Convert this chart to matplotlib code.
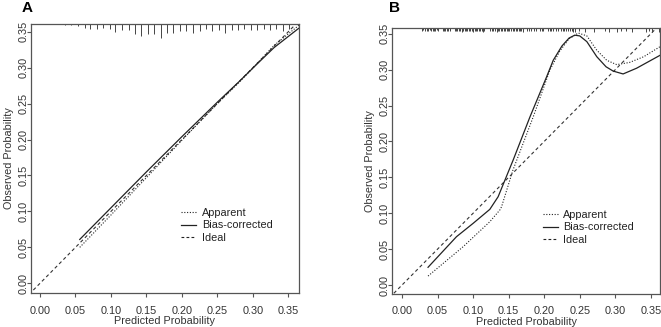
import matplotlib
matplotlib.use("Agg")
import matplotlib.pyplot as plt
from matplotlib.lines import Line2D
import numpy as np

plt.rcParams['font.family'] = ['Liberation Sans', 'DejaVu Sans']

# ---------------- Data ----------------
# Panel A
a_app_x = [0.056, 0.10, 0.15, 0.20, 0.25, 0.28, 0.31, 0.33, 0.365]
a_app_y = [0.050, 0.095, 0.147, 0.199, 0.250, 0.279, 0.310, 0.331, 0.359]
a_bc_x = [0.056, 0.10, 0.15, 0.20, 0.25, 0.28, 0.31, 0.33, 0.365]
a_bc_y = [0.061, 0.105, 0.155, 0.204, 0.252, 0.280, 0.309, 0.328, 0.355]
a_rug_x = [0.035, 0.043, 0.054, 0.063, 0.071, 0.080, 0.089, 0.098, 0.106, 0.116,
           0.125, 0.134, 0.142, 0.152, 0.161, 0.170, 0.179, 0.188, 0.197, 0.206,
           0.216, 0.225, 0.234, 0.243, 0.252, 0.261, 0.270, 0.279, 0.288, 0.297,
           0.306, 0.315, 0.324, 0.333, 0.342, 0.351]
a_rug_freq = [1, 1.3, 2, 4, 5, 5, 4, 5, 8, 6, 6, 10, 12, 10, 10, 14, 9, 9, 7, 7,
              9, 7, 5, 7, 6, 9, 6, 6, 5, 6, 6, 5, 6, 5, 7, 5]

# Panel B
b_app_x = [0.0366, 0.0859, 0.1235, 0.1376, 0.140, 0.156, 0.1845, 0.208, 0.222,
           0.235, 0.248, 0.260, 0.274, 0.288, 0.302, 0.320, 0.340, 0.363]
b_app_y = [0.0125, 0.0533, 0.0882, 0.1045, 0.109, 0.160, 0.234, 0.2994, 0.326,
           0.343, 0.351, 0.347, 0.327, 0.313, 0.307, 0.310, 0.318, 0.332]
b_bc_x = [0.0366, 0.0766, 0.100, 0.1235, 0.1352, 0.1563, 0.1799, 0.2034, 0.2127,
          0.225, 0.235, 0.243, 0.250, 0.260, 0.274, 0.287, 0.297, 0.311, 0.330, 0.363]
b_bc_y = [0.0247, 0.0673, 0.0859, 0.1054, 0.123, 0.174, 0.234, 0.290, 0.313,
          0.333, 0.344, 0.348, 0.347, 0.339, 0.318, 0.304, 0.298, 0.294, 0.302, 0.320]
b_rug_x = [0.028, 0.030, 0.033, 0.035, 0.037, 0.039, 0.041, 0.043, 0.045, 0.047,
           0.049, 0.051, 0.057, 0.059, 0.061, 0.063, 0.065, 0.067, 0.068, 0.074,
           0.076, 0.078, 0.080, 0.082, 0.084, 0.086, 0.088, 0.090, 0.092, 0.094,
           0.096, 0.098, 0.100, 0.102, 0.104, 0.106, 0.108, 0.110, 0.112, 0.114,
           0.116, 0.124, 0.126, 0.128, 0.131, 0.133, 0.135, 0.137, 0.139, 0.141,
           0.143, 0.145, 0.147, 0.149, 0.151, 0.154, 0.156, 0.158, 0.160, 0.162,
           0.164, 0.166, 0.168, 0.170, 0.176, 0.178, 0.181, 0.186, 0.188, 0.194,
           0.197, 0.199, 0.206, 0.208, 0.210, 0.212, 0.216, 0.220, 0.223, 0.226,
           0.228, 0.231, 0.233, 0.236, 0.239, 0.241, 0.244, 0.249, 0.258, 0.270,
           0.286, 0.291, 0.303, 0.308, 0.315, 0.324, 0.343, 0.348, 0.352, 0.362]
b_rug_freq = [3, 2, 3, 3, 3, 2, 3, 3, 3, 3, 2, 3, 3, 3, 3, 3, 3, 2, 3, 3,
              3, 3, 3, 3, 4, 3, 3, 3, 3, 3, 3, 3, 4, 3, 3, 3, 3, 3, 3, 4,
              3, 3, 3, 3, 3, 4, 3, 3, 3, 3, 3, 3, 3, 3, 3, 3, 3, 3, 3, 3,
              3, 3, 3, 4, 3, 3, 3, 3, 3, 3, 3, 3, 3, 3, 3, 3, 3, 3, 3, 3,
              3, 3, 3, 3, 3, 4, 4, 3, 4, 4, 3, 4, 4, 3, 3, 4, 4, 3, 4, 4]

xticks = [0.00, 0.05, 0.10, 0.15, 0.20, 0.25, 0.30, 0.35]
yticks = [0.00, 0.05, 0.10, 0.15, 0.20, 0.25, 0.30, 0.35]
legend_labels = ["Apparent", "Bias-corrected", "Ideal"]

# ---------------- Figure ----------------
W, H = 661, 327
fig = plt.figure(figsize=(W / 100, H / 100), dpi=100)

def px_axes(l, t, r, b):
    return fig.add_axes([l / W, 1 - b / H, (r - l) / W, (b - t) / H])

ax_a = px_axes(31, 24, 299, 293)
ax_b = px_axes(392, 28, 660, 294)

lc = '#222222'
fc = '#555555'
fs = 7.8

def style(ax, xlim, ylim, rug_x, rug_freq, rug_scale):
    ax.set_xlim(*xlim)
    ax.set_ylim(*ylim)
    ax.plot([-1, 1], [-1, 1], color='#333333', lw=0.8, dashes=(3, 2.5))
    ax.set_xticks(xticks)
    ax.set_xticklabels([f"{v:.2f}" for v in xticks])
    ax.set_yticks(yticks)
    ax.set_yticklabels([f"{v:.2f}" for v in yticks], rotation=90, va='center')
    ax.tick_params(axis='both', labelsize=fs, colors=fc, length=3, width=0.8)
    ax.tick_params(axis='x', labelcolor='#333333', pad=6)
    ax.tick_params(axis='y', labelcolor='#333333', pad=-1.5)
    for s in ax.spines.values():
        s.set_color('#555555')
        s.set_linewidth(0.9)
    ax.set_xlabel("Predicted Probability", fontsize=fs, color='#333333', labelpad=0.5)
    ax.set_ylabel("Observed Probability", fontsize=fs, color='#333333', labelpad=3.5)
    trans = ax.get_xaxis_transform()
    for x, f in zip(rug_x, rug_freq):
        ax.plot([x, x], [1, 1 - f * rug_scale], color='#444444', lw=0.7,
                transform=trans, clip_on=False, solid_capstyle='butt')

style(ax_a, (-0.0127, 0.3650), (-0.0135, 0.3607), a_rug_x, a_rug_freq, 1 / 269)
style(ax_b, (-0.0141, 0.3629), (-0.0125, 0.3580), b_rug_x, b_rug_freq, 1 / 266)

ax_a.plot(a_app_x, a_app_y, color=lc, lw=0.8, dashes=(1, 1.5))
ax_a.plot(a_bc_x, a_bc_y, color=lc, lw=0.9)
ax_b.plot(b_app_x, b_app_y, color=lc, lw=0.8, dashes=(1, 1.5))
ax_b.plot(b_bc_x, b_bc_y, color=lc, lw=0.9)

handles = [Line2D([], [], color=lc, lw=0.8, dashes=(1, 1.5)),
           Line2D([], [], color=lc, lw=0.9),
           Line2D([], [], color=lc, lw=0.8, dashes=(2.5, 2))]

for ax, anchor in ((ax_a, (0.560, 0.315)), (ax_b, (0.563, 0.315))):
    ax.legend(handles, legend_labels, loc='upper left', bbox_to_anchor=anchor,
              frameon=False, fontsize=fs, handlelength=1.4, handletextpad=0.5,
              labelspacing=0.2, borderpad=0, borderaxespad=0,
              labelcolor='#222222')

fig.text(22 / W, 1 - 12 / H, "A", fontsize=11, fontweight='bold', va='baseline')
fig.text(389 / W, 1 - 12 / H, "B", fontsize=11, fontweight='bold', va='baseline')

fig.savefig("out.png", dpi=100)
